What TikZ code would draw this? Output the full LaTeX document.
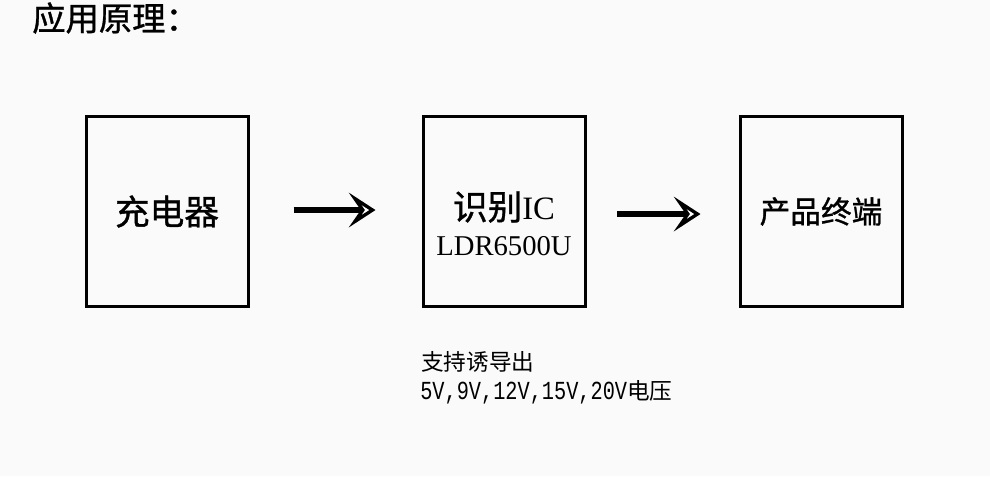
\documentclass[tikz,border=0pt]{standalone}
\usepackage{fontspec}
\setmainfont{Liberation Serif}
\newfontfamily\cjk{Noto Sans CJK SC}
\newfontfamily\cjkb[FakeBold=1]{Noto Sans CJK SC}
\newfontfamily\monofont[FakeStretch=0.78]{Liberation Mono}
\usetikzlibrary{arrows.meta}
\begin{document}
\begin{tikzpicture}[x=0.75pt,y=-0.75pt,
  block/.style={draw,line width=2.25pt,minimum width=121.5pt,minimum height=142.5pt,inner sep=0pt},
  flow/.style={line width=5pt,-{Stealth[open,fill=white,length=20pt,width=26pt,inset=9pt,line width=2.5pt]}}]
\definecolor{bg}{RGB}{250,250,250}
\fill[bg] (0,0) rectangle (990,476);
\useasboundingbox (0,0) rectangle (990,476);
% title
\node[anchor=west,inner sep=0pt] (title) at (32,18) {\cjkb\fontsize{25}{30}\selectfont 应用原理：};
% blocks
\node[block] (charger) at (167,211.5) {\cjkb\fontsize{26}{30}\selectfont 充电器};
\node[block] (ic) at (504,211.5) {};
\node[block] (terminal) at (821,211.5) {\cjkb\fontsize{23}{28}\selectfont 产品终端};
\node[inner sep=0pt] (icname) at (504,207) {{\cjkb\fontsize{26}{30}\selectfont 识别}{\fontsize{24.5}{26}\selectfont IC}};
\node[inner sep=0pt] (icpart) at (504,246) {\fontsize{21.5}{26}\selectfont LDR6500U};
% arrows
\draw[flow,shorten <=33pt,shorten >=34.5pt] ([yshift=1.1pt]charger.east) -- ([yshift=1.1pt]ic.west);
\draw[flow,shorten <=23pt,shorten >=28.5pt] ([yshift=-1.9pt]ic.east) -- ([yshift=-1.9pt]terminal.west);
% note
\node[anchor=west,inner sep=0pt] (note1) at (421,362) {\cjk\fontsize{17}{20}\selectfont 支持诱导出};
\node[anchor=west,inner sep=0pt] (note2) at (420,392) {{\monofont\fontsize{19.5}{20}\selectfont 5V,9V,12V,15V,20V}{\cjk\fontsize{17}{20}\selectfont 电压}};
\end{tikzpicture}
\end{document}
